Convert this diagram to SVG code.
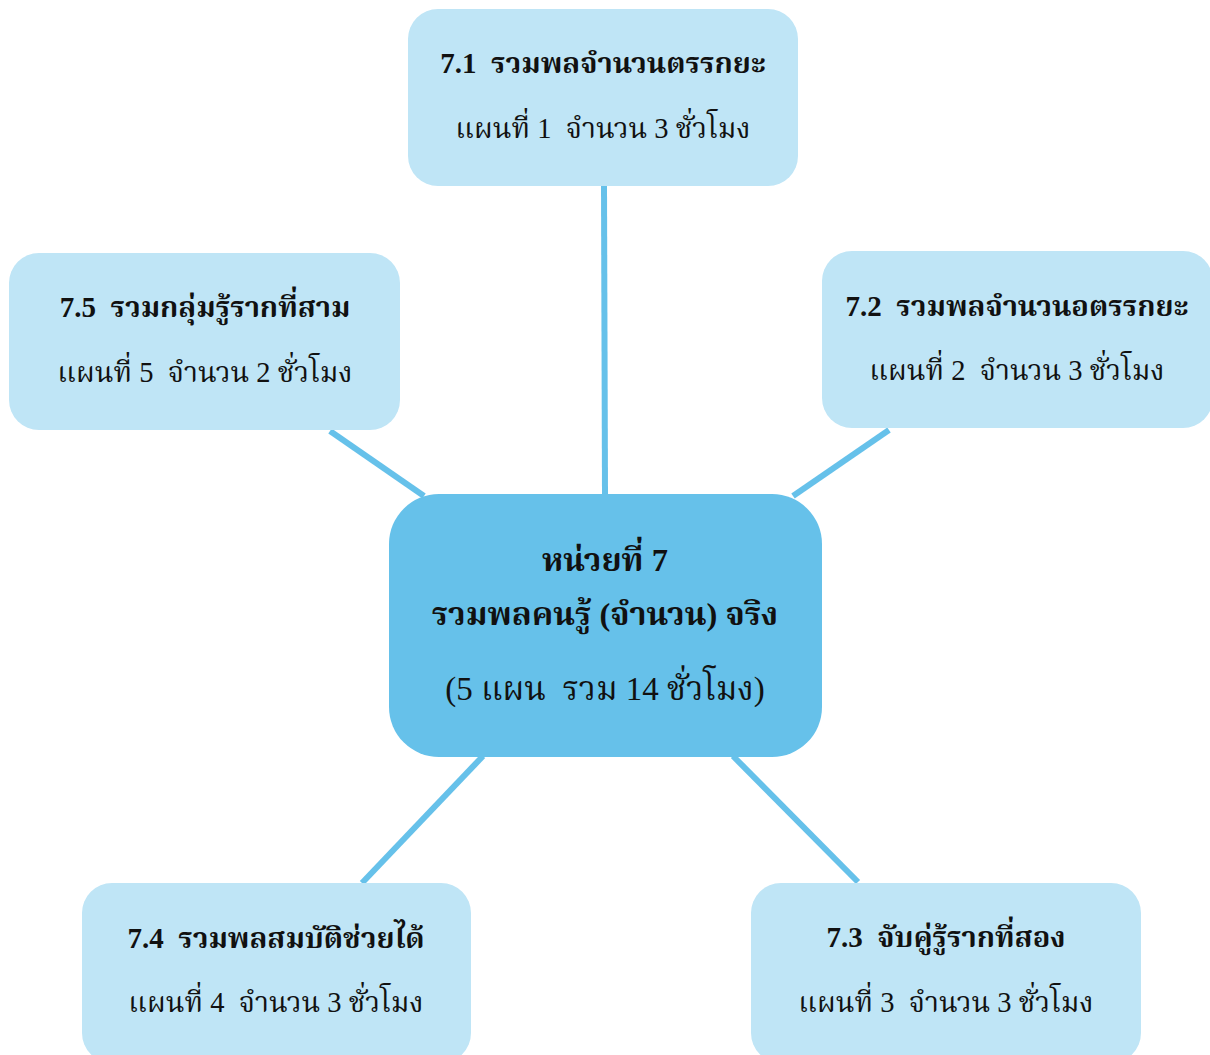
<svg xmlns="http://www.w3.org/2000/svg" width="1210" height="1055" viewBox="0 0 1210 1055">
<style>
.leaf{fill:#bfe5f6}
.hub{fill:#66c1ea}
.t{font-family:"Liberation Serif","Noto Serif Thai","Noto Sans Thai",serif;fill:#111;text-anchor:middle;white-space:pre}
.b{font-weight:bold;font-size:29px}
.r{font-size:28.5px}
.c1{font-size:32.5px}
.c2{font-size:33px}
.conn line{stroke:#66c1ea;stroke-width:6}
</style>
<rect width="1210" height="1055" fill="#fff"/>
<g class="conn" id="connectors">
<line x1="604" y1="186" x2="605" y2="496"/>
<line x1="330" y1="431" x2="424" y2="496"/>
<line x1="889" y1="430" x2="793" y2="496"/>
<line x1="483" y1="756" x2="362" y2="883"/>
<line x1="733" y1="756" x2="858" y2="882"/>
</g>
<g id="n71"><rect class="leaf" x="408" y="9" width="390" height="177" rx="30"/>
<text class="t b" x="603" y="73" xml:space="preserve">7.1  รวมพลจำนวนตรรกยะ</text>
<text class="t r" x="603" y="138" xml:space="preserve">แผนที่ 1  จำนวน 3 ชั่วโมง</text></g>
<g id="n75"><rect class="leaf" x="9" y="253" width="391" height="177" rx="30"/>
<text class="t b" x="205" y="317" xml:space="preserve">7.5  รวมกลุ่มรู้รากที่สาม</text>
<text class="t r" x="205" y="382" xml:space="preserve">แผนที่ 5  จำนวน 2 ชั่วโมง</text></g>
<g id="n72"><rect class="leaf" x="822" y="251" width="391" height="177" rx="30"/>
<text class="t b" x="1017" y="316" xml:space="preserve">7.2  รวมพลจำนวนอตรรกยะ</text>
<text class="t r" x="1017" y="380" xml:space="preserve">แผนที่ 2  จำนวน 3 ชั่วโมง</text></g>
<g id="n74"><rect class="leaf" x="82" y="883" width="389" height="180" rx="30"/>
<text class="t b" x="276" y="948" xml:space="preserve">7.4  รวมพลสมบัติช่วยได้</text>
<text class="t r" x="276" y="1012" xml:space="preserve">แผนที่ 4  จำนวน 3 ชั่วโมง</text></g>
<g id="n73"><rect class="leaf" x="751" y="883" width="390" height="180" rx="30"/>
<text class="t b" x="946" y="947" xml:space="preserve">7.3  จับคู่รู้รากที่สอง</text>
<text class="t r" x="946" y="1012" xml:space="preserve">แผนที่ 3  จำนวน 3 ชั่วโมง</text></g>
<g id="hub"><rect class="hub" x="389" y="494" width="433" height="263" rx="50"/>
<text class="t b c1" x="605" y="571">หน่วยที่ 7</text>
<text class="t b c1" x="605" y="625">รวมพลคนรู้ (จำนวน) จริง</text>
<text class="t c2" x="605" y="700" xml:space="preserve">(5 แผน  รวม 14 ชั่วโมง)</text></g>
</svg>
